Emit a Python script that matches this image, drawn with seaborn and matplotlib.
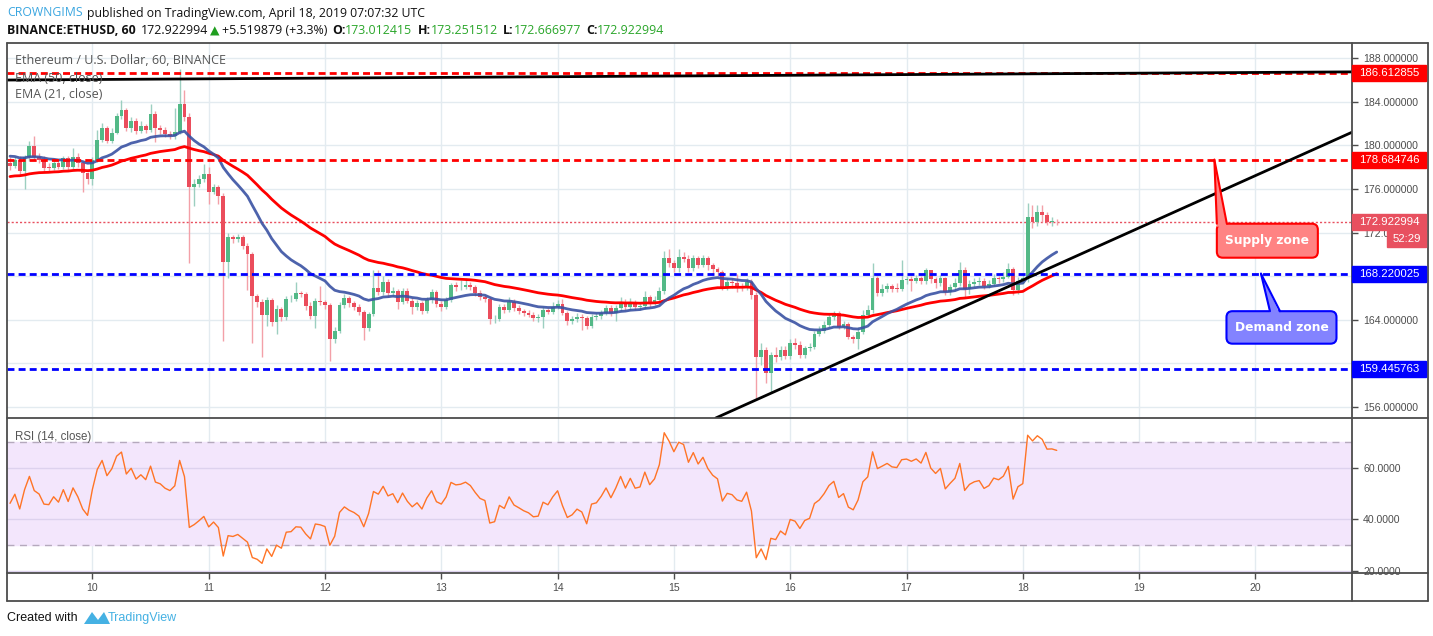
import numpy as np
import pandas as pd
import seaborn as sns
import matplotlib
matplotlib.use("Agg")
import matplotlib.pyplot as plt
import matplotlib.transforms as mtrans
from matplotlib.patches import Rectangle, FancyBboxPatch, Polygon
from matplotlib.lines import Line2D

# ETHUSD 1h candles, Apr 9 07:00 -> Apr 18 07:00
first_open = 178.34
closes = [
    178.09, 178.64, 177.63, 178.89, 179.93, 178.95, 178.70, 177.94, 177.90, 178.40, 178.03, 178.83,
    178.03, 178.95, 178.34, 177.42, 176.90, 178.70, 180.54, 181.55, 180.42, 181.15, 182.68, 183.23,
    181.55, 182.22, 181.33, 181.79, 181.40, 182.86, 181.55, 181.40, 181.03, 180.84, 181.24, 183.84,
    182.56, 176.20, 176.50, 176.90, 177.33, 175.74, 176.20, 175.37, 169.32, 171.55, 171.36, 171.58,
    170.80, 170.00, 166.17, 165.65, 164.42, 165.80, 163.80, 164.94, 164.20, 165.86, 165.92, 166.41,
    166.35, 165.25, 164.36, 165.71, 165.59, 165.34, 162.19, 162.98, 165.34, 165.95, 165.49, 165.19,
    164.73, 163.26, 164.48, 166.87, 166.56, 167.48, 166.41, 166.65, 165.65, 166.65, 165.74, 165.12,
    165.49, 164.82, 165.80, 166.50, 165.43, 165.19, 165.80, 167.17, 166.96, 167.02, 167.20, 166.96,
    166.47, 166.04, 165.89, 164.02, 164.10, 165.12, 164.88, 165.64, 165.03, 164.82, 164.60, 164.45,
    164.17, 164.20, 164.88, 164.73, 165.12, 165.43, 164.64, 163.90, 164.02, 164.27, 164.11, 163.41,
    164.27, 164.33, 164.63, 165.03, 164.57, 165.03, 165.64, 165.12, 165.64, 165.19, 165.25, 166.04,
    165.49, 165.80, 166.65, 169.62, 169.22, 168.70, 169.71, 169.60, 168.70, 169.62, 169.00, 169.62,
    169.00, 168.61, 168.40, 166.96, 167.48, 167.39, 167.05, 166.96, 167.48, 166.26, 160.60, 161.20,
    159.13, 160.75, 160.54, 161.21, 160.66, 161.88, 161.67, 160.75, 161.36, 161.52, 162.68, 162.98,
    163.50, 164.20, 164.57, 163.29, 163.60, 162.44, 162.19, 162.90, 164.42, 164.88, 167.79, 166.47,
    166.78, 167.10, 166.85, 166.80, 167.63, 167.70, 167.57, 167.79, 167.57, 168.55, 167.70, 167.39,
    167.79, 166.56, 166.96, 167.33, 168.55, 166.78, 167.27, 167.48, 167.57, 167.08, 167.27, 167.79,
    167.70, 167.94, 168.61, 166.72, 167.57, 167.79, 173.38, 172.98, 173.87, 173.63, 172.98, 173.01,
    172.92]
highs = [
    178.95, 178.90, 179.00, 179.10, 180.40, 180.84, 179.30, 179.00, 178.40, 178.70, 178.60, 179.00,
    179.00, 179.77, 179.30, 178.50, 177.60, 178.90, 181.40, 182.10, 181.80, 181.60, 183.00, 184.20,
    183.40, 182.60, 182.50, 182.20, 182.00, 183.78, 183.20, 181.90, 181.70, 181.30, 183.44, 187.00,
    185.10, 183.00, 176.90, 177.30, 178.30, 178.00, 176.50, 176.40, 175.60, 172.00, 171.80, 171.90,
    171.80, 171.00, 170.20, 166.40, 165.90, 166.10, 166.00, 165.30, 165.20, 166.20, 166.30, 167.48,
    166.60, 166.50, 165.60, 166.00, 167.10, 165.80, 165.50, 163.30, 165.60, 166.40, 166.20, 165.70,
    165.40, 164.90, 164.70, 168.60, 168.55, 168.00, 167.70, 167.00, 166.80, 166.90, 166.90, 166.00,
    165.80, 165.70, 166.10, 166.80, 166.70, 165.70, 166.10, 167.40, 167.50, 167.60, 167.80, 167.50,
    167.20, 166.70, 166.30, 166.10, 164.40, 165.40, 165.40, 166.10, 165.90, 165.30, 165.00, 164.90,
    164.70, 164.50, 165.20, 165.10, 165.60, 165.80, 165.90, 164.80, 164.30, 164.60, 164.50, 164.30,
    164.50, 164.60, 164.90, 165.30, 165.30, 165.30, 166.10, 165.90, 166.00, 165.80, 165.60, 166.60,
    166.30, 166.20, 167.00, 170.30, 170.45, 169.50, 170.45, 170.20, 169.90, 169.90, 169.80, 169.90,
    169.80, 169.20, 168.80, 168.60, 167.80, 167.80, 168.20, 167.40, 167.80, 167.70, 166.50, 161.90,
    161.50, 161.00, 161.50, 161.60, 161.60, 162.20, 162.30, 162.00, 161.60, 161.90, 163.00, 163.40,
    163.90, 164.50, 164.80, 164.80, 163.90, 163.80, 162.60, 163.30, 164.90, 165.30, 169.16, 168.00,
    167.30, 167.40, 167.30, 167.40, 169.47, 168.00, 168.00, 168.10, 168.00, 168.70, 168.60, 167.90,
    168.10, 167.90, 167.30, 167.80, 169.30, 168.80, 167.60, 167.80, 167.90, 167.80, 167.60, 168.20,
    168.00, 168.40, 169.20, 168.80, 167.90, 168.10, 174.73, 174.50, 174.50, 174.50, 173.90, 173.40,
    173.25]
lows = [
    177.72, 177.90, 177.30, 175.95, 178.60, 178.70, 178.40, 177.60, 177.60, 177.70, 177.80, 177.80,
    177.70, 177.80, 178.00, 175.74, 176.50, 176.35, 178.50, 180.30, 180.20, 180.20, 181.00, 182.40,
    181.30, 181.20, 181.00, 181.10, 181.10, 181.20, 180.30, 181.00, 180.80, 180.60, 180.60, 181.00,
    182.20, 169.20, 174.40, 176.20, 176.60, 174.60, 175.50, 174.60, 162.00, 167.80, 171.00, 171.10,
    170.50, 166.70, 161.90, 165.20, 160.60, 163.40, 163.40, 162.70, 163.90, 164.00, 165.60, 165.70,
    166.10, 164.90, 164.10, 163.20, 165.30, 165.00, 160.20, 161.90, 162.80, 165.10, 165.20, 164.90,
    164.40, 162.10, 163.00, 164.30, 166.30, 166.30, 166.10, 166.20, 165.00, 165.40, 165.50, 164.50,
    164.90, 164.50, 164.60, 165.50, 165.20, 164.80, 165.00, 165.60, 166.60, 166.70, 166.80, 166.70,
    166.20, 165.80, 165.60, 163.60, 163.70, 163.90, 164.60, 164.70, 164.80, 164.50, 164.30, 164.20,
    163.90, 163.80, 163.26, 164.50, 164.50, 165.00, 164.40, 163.50, 163.60, 163.80, 163.05, 163.10,
    163.20, 164.00, 164.10, 164.40, 164.30, 163.90, 164.80, 164.90, 164.90, 164.90, 164.90, 165.00,
    165.20, 165.30, 165.50, 166.40, 168.80, 168.40, 168.40, 169.30, 168.40, 168.50, 168.70, 168.80,
    168.60, 168.10, 168.00, 166.70, 166.70, 166.90, 166.50, 166.60, 166.70, 165.90, 156.80, 159.80,
    158.15, 157.40, 160.10, 160.30, 160.40, 160.40, 161.30, 160.50, 160.50, 161.10, 161.30, 162.50,
    162.80, 163.30, 164.00, 163.10, 163.10, 162.20, 161.90, 161.27, 162.70, 164.20, 164.60, 166.20,
    166.20, 166.50, 166.50, 166.50, 166.60, 167.30, 166.60, 167.40, 167.30, 167.30, 167.40, 166.90,
    167.10, 166.30, 166.30, 166.70, 167.10, 165.95, 166.40, 167.00, 167.20, 166.80, 166.90, 167.10,
    167.40, 167.50, 167.80, 166.26, 166.40, 167.30, 167.50, 172.40, 172.60, 173.00, 172.70, 172.60,
    172.67]

ema21_seed, ema50_seed = 179.1, 177.1
rsi_seed_gain, rsi_seed_loss = 0.30, 0.33

supply_levels = [186.612855, 178.684746]
demand_levels = [168.220025, 159.445763]
last_price = 172.922994
upper_trend_x, upper_trend_y = [9.27, 20.85], [186.0, 186.75]
lower_trend_x, lower_trend_y = [15.36, 20.85], [154.97, 181.3]
price_ticks = [156, 160, 164, 168, 172, 176, 180, 184, 188]
hidden_price_ticks = [160, 168]   # covered by the level boxes on the reference
rsi_ticks = [20, 40, 60]
day_ticks = list(range(10, 21))


def ema(values, n, seed):
    a = 2 / (n + 1)
    e, out = seed, []
    for v in values:
        e = a * v + (1 - a) * e
        out.append(e)
    return out


def wilder_rsi(values, start, g, l, n=14):
    out, prev = [], start
    for v in values:
        d = v - prev
        g = (g * (n - 1) + max(d, 0)) / n
        l = (l * (n - 1) + max(-d, 0)) / n
        out.append(100 - 100 / (1 + g / l))
        prev = v
    return out


df = pd.DataFrame({"close": closes, "high": highs, "low": lows})
df["open"] = [first_open] + closes[:-1]
df["day"] = 9 + (7 + np.arange(len(df))) / 24
df["ema21"] = ema(closes, 21, ema21_seed)
df["ema50"] = ema(closes, 50, ema50_seed)
df["rsi"] = wilder_rsi(closes, first_open, rsi_seed_gain, rsi_seed_loss)
up = df["close"] >= df["open"]

sns.set_theme(style="white")
plt.rcParams["font.family"] = ["Liberation Sans", "DejaVu Sans"]

W, H = 1433, 636
fig = plt.figure(figsize=(W / 100, H / 100), dpi=100)
fig.patch.set_facecolor("white")


def fx(px):
    return px / W


def fy(py):
    return 1 - py / H


ax = fig.add_axes([fx(7), fy(418), fx(1352) - fx(7), fy(43) - fy(418)])
ax2 = fig.add_axes([fx(7), fy(572.7), fx(1352) - fx(7), fy(418) - fy(572.7)], sharex=ax)
for a in (ax, ax2):
    for s in a.spines.values():
        s.set_visible(False)
    a.set_facecolor("white")

xmin, xmax = 9.2657, 20.8306
ax.set_xlim(xmin, xmax)
ax.set_ylim(154.97, 189.4)
ax2.set_ylim(19.3, 79.3)

grid_c = "#e3ebf0"
for d in day_ticks:
    ax.axvline(d, color=grid_c, lw=1, zorder=0)
    ax2.axvline(d, color=grid_c, lw=1, zorder=0)
for p in price_ticks:
    ax.axhline(p, color=grid_c, lw=1, zorder=0)

# candles
up_body, dn_body = "#53b987", "#eb4d5c"
up_wick, dn_wick = "#9ccfc0", "#f3a0a8"
ax.vlines(df["day"], df["low"], df["high"], colors=np.where(up, up_wick, dn_wick), lw=1, zorder=2)
body_h = np.maximum((df["close"] - df["open"]).abs(), 0.07)
ax.bar(df["day"], body_h, bottom=np.minimum(df["open"], df["close"]), width=0.033,
       color=np.where(up, up_body, dn_body), linewidth=0, zorder=3)

# EMAs
sns.lineplot(data=df, x="day", y="ema50", ax=ax, color="#ff0000", lw=2, zorder=4)
sns.lineplot(data=df, x="day", y="ema21", ax=ax, color="#3a52a3", lw=2, alpha=0.9, zorder=4)

# horizontal levels
for lv in supply_levels:
    ax.axhline(lv, color="#ff0000", lw=2, ls=(0, (2.5, 1.5)), zorder=5)
for lv in demand_levels:
    ax.axhline(lv, color="#0000ff", lw=2, ls=(0, (2.5, 1.5)), zorder=5)
ax.axhline(last_price, color="#e8505f", lw=1, ls=(0, (1.5, 1.5)), zorder=1)

# trend lines
ax.plot(upper_trend_x, upper_trend_y, color="#000000", lw=2, zorder=5)
ax.plot(lower_trend_x, lower_trend_y, color="#000000", lw=2, zorder=5)

# RSI pane
ax2.axhspan(30, 70, color="#f3e6fc", zorder=0)
for lv in rsi_ticks:
    ax2.axhline(lv, color="#ddd2ee", lw=1, zorder=1)
for lv in (30, 70):
    ax2.axhline(lv, color="#b5a9bd", lw=1, ls=(0, (5, 4)), zorder=1)
sns.lineplot(data=df, x="day", y="rsi", ax=ax2, color="#ff7426", lw=1, zorder=3)

# axes / ticks
lab_c = "#4d4d4d"
ax.yaxis.tick_right()
ax.set_yticks(price_ticks)
ax.set_yticklabels(["" if p in hidden_price_ticks else f"{p:.6f}" for p in price_ticks])
ax.tick_params(axis="y", direction="out", length=4, width=1, pad=4, labelsize=7.6,
               colors="#4c4c4c", labelcolor=lab_c, right=True)
ax.tick_params(axis="x", bottom=False, labelbottom=False)
ax2.yaxis.tick_right()
ax2.set_yticks(rsi_ticks)
ax2.set_yticklabels([f"{p:.4f}" for p in rsi_ticks])
ax2.tick_params(axis="y", direction="out", length=4, width=1, pad=4, labelsize=7.6,
                colors="#4c4c4c", labelcolor=lab_c, right=True)
ax2.set_xticks(day_ticks)
ax2.set_xticklabels([str(d) for d in day_ticks])
ax2.tick_params(axis="x", direction="out", length=4, width=1, pad=3.5, labelsize=7.6,
                colors="#4c4c4c", labelcolor=lab_c, bottom=True)
for a in (ax, ax2):
    a.set_xlabel("")
    a.set_ylabel("")
ax.set_xlim(xmin, xmax)

# frame
frame_c = "#4c4c4c"
for (x0, y0, x1, y1) in [(7, 43, 1428, 43), (7, 43, 7, 601), (7, 601, 1428, 601),
                         (1428, 43, 1428, 601), (7, 418, 1428, 418),
                         (7, 572.7, 1428, 572.7), (1352, 43, 1352, 601)]:
    fig.add_artist(Line2D([fx(x0), fx(x1)], [fy(y0), fy(y1)], color=frame_c, lw=1.3,
                          transform=fig.transFigure))

# price labels on the right axis
ident = mtrans.IdentityTransform()


def price_box(level, text, color, y_off=0, x0=1352, w=74):
    ydisp = ax.transData.transform((xmin, level))[1] - y_off
    fig.add_artist(Rectangle((x0, ydisp - 8), w, 16, color=color, transform=ident, zorder=10))
    fig.text(fx(x0 + w / 2), ydisp / H, text, color="white", fontsize=8.2, ha="center",
             va="center", zorder=11)


for lv in supply_levels:
    price_box(lv, f"{lv:.6f}", "#ff0000")
for lv in demand_levels:
    price_box(lv, f"{lv:.6f}", "#0000ff")
price_box(last_price, f"{last_price:.6f}", "#e8505f")
price_box(last_price, "52:29", "#e8505f", y_off=17, x0=1387, w=39)

# callouts


def callout(tip_day, tip_price, text, fill, edge, dx0, dx1, dy0, dy1, b0, b1):
    tx, ty = ax.transData.transform((tip_day, tip_price))
    box = FancyBboxPatch((tx + dx0, ty - dy1), dx1 - dx0, dy1 - dy0,
                         boxstyle="round,pad=0,rounding_size=6", fc=fill, ec=edge, lw=1.5,
                         transform=ident, zorder=12)
    fig.add_artist(box)
    tri = Polygon([(tx, ty), (tx + b0, ty - dy0 - 3), (tx + b1, ty - dy0 - 3)], closed=True,
                  fc=fill, ec="none", transform=ident, zorder=13)
    fig.add_artist(tri)
    fig.add_artist(Line2D([tx, tx + b0], [ty, ty - dy0], color=edge, lw=1.5, transform=ident, zorder=14))
    fig.add_artist(Line2D([tx, tx + b1], [ty, ty - dy0], color=edge, lw=1.5, transform=ident, zorder=14))
    fig.text((tx + (dx0 + dx1) / 2) / W, (ty - (dy0 + dy1) / 2) / H, text, color="white",
             fontsize=8.8, fontweight="bold", family=["DejaVu Sans"], ha="center",
             va="center", zorder=15)


callout(19.647, supply_levels[1], "Supply zone", "#ff8383", "#ff0000", 2.5, 103.5, 64, 98, 2.5, 12.5)
callout(20.048, demand_levels[0], "Demand zone", "#8383ff", "#0000ff", -34.5, 75.5, 37.5, 70, 9, 19)

# pane titles
title_font = ["Open Sans", "DejaVu Sans"]
fig.text(fx(15), fy(61), "Ethereum / U.S. Dollar, 60, BINANCE", fontsize=9.0, color="#555555",
         va="center", family=title_font)
fig.text(fx(15), fy(78), "EMA (50, close)", fontsize=9.0, color="#555555", va="center",
         family=title_font)
fig.text(fx(15), fy(95), "EMA (21, close)", fontsize=9.0, color="#555555", va="center",
         family=title_font)
fig.text(fx(15), fy(437), "RSI (14, close)", fontsize=8.3, color="#555555", va="center")

# header rows
renderer = fig.canvas.get_renderer()


def put_row(pieces, x, py, size):
    for s, color, weight, gap in pieces:
        t = fig.text(fx(x), fy(py), s, color=color, fontweight=weight, fontsize=size,
                     va="center", ha="left", family=title_font)
        x = t.get_window_extent(renderer).x1 + gap


put_row([("CROWNGIMS", "#3ba6e0", "normal", 4),
         ("published on TradingView.com, April 18, 2019 07:07:32 UTC", "#111111", "normal", 0)],
        7, 13, 8.8)
green = "#2aa62a"
put_row([("BINANCE:ETHUSD, 60", "#111111", "bold", 5), ("172.922994", "#111111", "normal", 2),
         ("\u25b2", "#1f9e1f", "normal", 2), ("+5.519879 (+3.3%)", "#111111", "normal", 5),
         ("O:", "#111111", "bold", 0), ("173.012415", green, "normal", 5),
         ("H:", "#111111", "bold", 0), ("173.251512", green, "normal", 5),
         ("L:", "#111111", "bold", 0), ("172.666977", green, "normal", 5),
         ("C:", "#111111", "bold", 0), ("172.922994", green, "normal", 0)],
        7, 31, 8.9)

# footer
fig.text(fx(7), fy(618), "Created with", fontsize=9, color="#111111", va="center")
fig.add_artist(Polygon([(fx(84), fy(624)), (fx(92), fy(612)), (fx(98), fy(620)), (fx(104), fy(612)),
                        (fx(110), fy(624))], closed=True, fc="#45b1e3", ec="none",
                       transform=fig.transFigure))
fig.text(fx(108), fy(618), "TradingView", fontsize=9, color="#45b1e3", va="center")

fig.savefig("out.png", dpi=100)
